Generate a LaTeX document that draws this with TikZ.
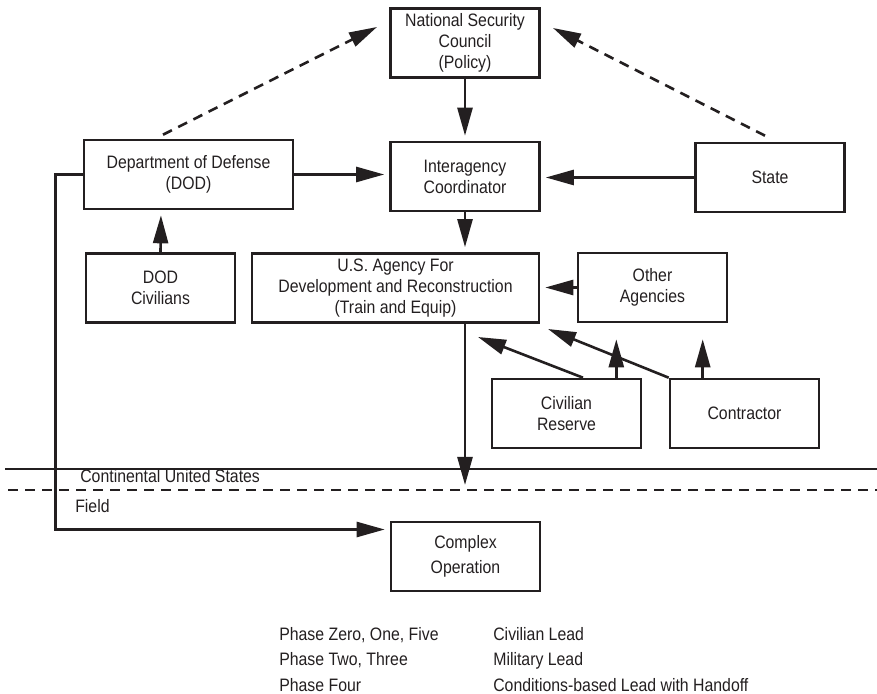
\documentclass[tikz,border=0pt]{standalone}
\usepackage{fontspec}
\setmainfont{Liberation Sans}[FakeStretch=0.88]
\usepackage{xcolor}
\usepackage{tikz}
\usetikzlibrary{arrows.meta,positioning}
\definecolor{ink}{RGB}{35,31,32}

\begin{document}
\begin{tikzpicture}[->,>={Triangle[length=14pt,width=7.5pt]},x=0.5pt,y=-0.5pt,line width=1.3pt,draw=ink,
  unit/.style={rectangle,draw=ink,line width=1.3pt,align=center,inner sep=0pt,minimum width=74.5pt,minimum height=34.5pt,text=ink,font=\fontsize{9}{10.5}\selectfont},
  caption/.style={anchor=base west,inner sep=0pt,text=ink,font=\fontsize{9}{10.5}\selectfont},
  gap/.style={shorten >=2.5pt},
  hint/.style={dash pattern=on 5pt off 3.5pt}]

    \useasboundingbox (0,0) rectangle (877,694);

    % The boxes
	\node [unit] at (465,43) (nsc) {National Security\\Council\\(Policy)};
	\node [unit] at (465,176.5) (ic) {Interagency\\Coordinator};
	\node [unit, minimum width=104.5pt] at (188.5,174.5) (dod) {Department of Defense\\(DOD)};
	\node [unit] at (770,177.5) (state) {State};

	\node [unit] at (160.5,288) (dodciv) {DOD\\Civilians};
	\node [unit, minimum width=143.5pt] at (395.5,288) (usaid) {U.S. Agency For\\Development and Reconstruction\\(Train and Equip)};
	\node [unit] at (652.5,287.5) (oa) {Other\\Agencies};

	\node [unit] at (566.5,413.5) (cr) {Civilian\\Reserve};
	\node [unit] at (744.5,413.5) (con) {Contractor};

	\node [unit] at (465.5,556.5) (cx) {Complex\\[2pt]Operation};

	% Free ends
	\coordinate (nscL) at (377,27);
	\coordinate (nscR) at (553,28);
	\coordinate (crtip) at (478,337);
	\coordinate (contip) at (548,329);
	\coordinate (ustip) at (465,485);

	% Border between home and field
	\draw [-] (5,469) -- (877,469);
	\draw [-, hint] (8,490) -- (877,490);
	\node [caption] at (79,482) (conus) {Continental United States};
	\node [caption] at (74,512) (field) {Field};

	% Graph edges
	\path[->, gap]
	(nsc) edge (ic)
	(ic.south) edge (ic.south |- usaid.north)
	(dod.east) edge (dod.east -| ic.west)
	(state.west) edge (state.west -| ic.east)
	(dodciv.north) edge ([xshift=0.25pt]dodciv.north |- dod.south)
	(oa.west) edge (oa.west -| usaid.east);

	\path[->]
	([xshift=8.25pt]cr.north) edge (crtip)
	(con.north west) edge (contip)
	(ic.south |- usaid.south) edge (ustip);

	\path[->, shorten >=8pt]
	([xshift=-13pt]cr.north east) edge ([xshift=-13pt]cr.north east |- oa.south)
	([xshift=17pt]con.north west) edge ([xshift=17pt]con.north west |- oa.south);

	\path[->, hint]
	([shift={(-12.75pt,2pt)}]dod.north) edge (nscL)
	([shift={(-2.5pt,3pt)}]state.north) edge (nscR);

	\draw[->, gap] (dod.west) -- ++(-27,0) |- ([yshift=13.5pt]cx.west);

	% Legend
	\node [caption] at (278,640) (p015) {Phase Zero, One, Five};
	\node [caption] at (278,665) (p23) {Phase Two, Three};
	\node [caption] at (278,691) (p4) {Phase Four};
	\node [caption] at (492,640) (civ) {Civilian Lead};
	\node [caption] at (492,665) (mil) {Military Lead};
	\node [caption] at (492,691) (cond) {Conditions-based Lead with Handoff};

\end{tikzpicture}
\end{document}
